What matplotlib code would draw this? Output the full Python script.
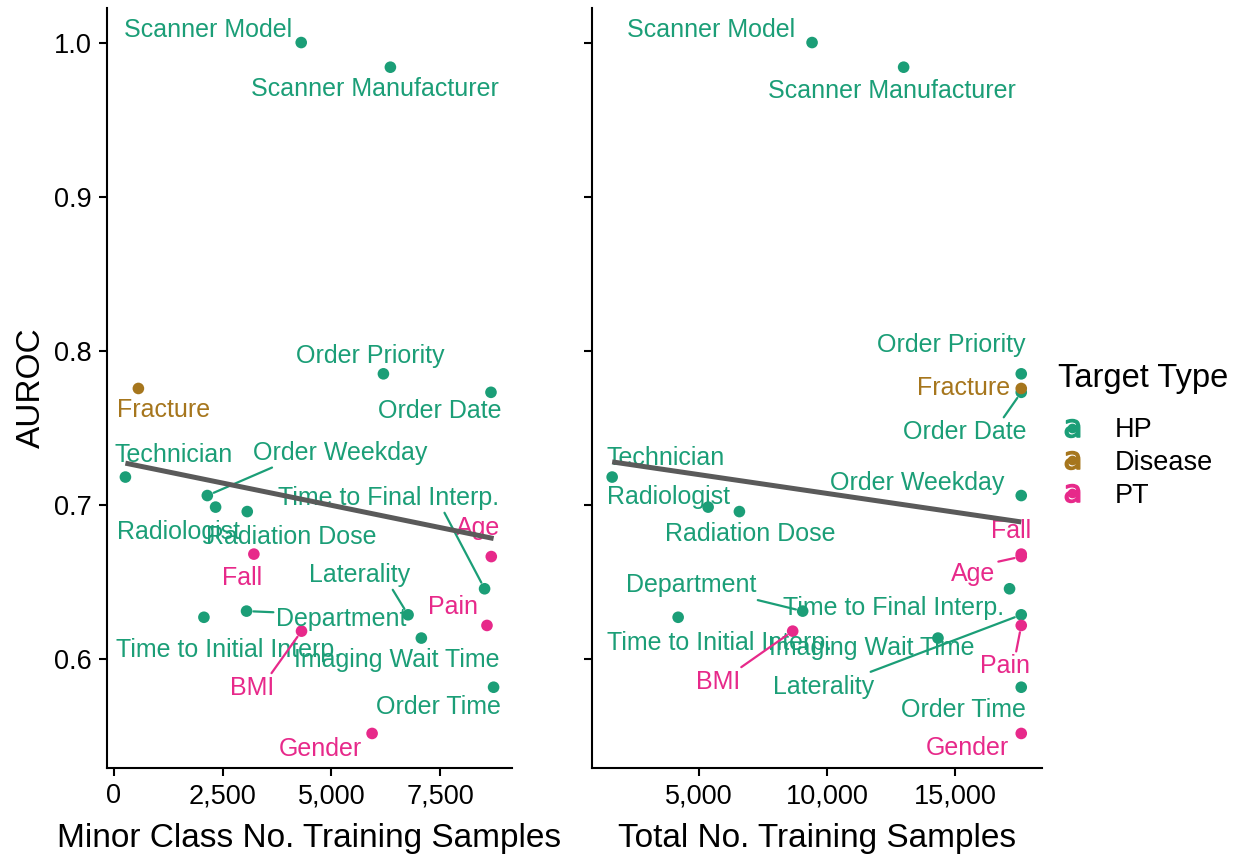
import numpy as np
import matplotlib
matplotlib.use('Agg')
import matplotlib.pyplot as plt
from matplotlib.lines import Line2D
from matplotlib.legend_handler import HandlerTuple
from matplotlib.ticker import FuncFormatter

plt.rcParams['font.family'] = ['Liberation Sans', 'DejaVu Sans']

# data
features = ['Scanner Model', 'Scanner Manufacturer', 'Order Priority', 'Order Date',
            'Fracture', 'Technician', 'Order Weekday', 'Radiologist', 'Radiation Dose',
            'Fall', 'Age', 'Time to Final Interp.', 'Time to Initial Interp.',
            'Department', 'Laterality', 'BMI', 'Imaging Wait Time', 'Pain',
            'Order Time', 'Gender']
target_type = ['HP', 'HP', 'HP', 'HP', 'Disease', 'HP', 'HP', 'HP', 'HP', 'PT', 'PT',
               'HP', 'HP', 'HP', 'HP', 'PT', 'HP', 'PT', 'HP', 'PT']
minor_samples = [4305, 6353, 6193, 8663, 566, 268, 2149, 2339, 3066, 3218, 8670,
                 8516, 2071, 3050, 6759, 4312, 7064, 8571, 8723, 5933]
total_samples = [9419, 12990, 17576, 17576, 17576, 1624, 17576, 5366, 6586, 17576,
                 17576, 17120, 4197, 9053, 17576, 8664, 14329, 17576, 17576, 17576]
auroc = [1.000, 0.984, 0.785, 0.773, 0.7755, 0.718, 0.706, 0.6985, 0.6956, 0.668,
         0.6664, 0.6455, 0.627, 0.631, 0.6286, 0.618, 0.6135, 0.6217, 0.5816, 0.5516]

type_order = ['HP', 'Disease', 'PT']
palette = {'HP': '#1b9e77', 'Disease': '#a6761d', 'PT': '#e7298a'}

# label placement (pixel offsets from the point) and whether a leader line is drawn
minor_labels = {
    'Scanner Model': (-93, 13, False), 'Scanner Manufacturer': (-15, -22, False),
    'Order Priority': (-13, 18, False), 'Order Date': (-51, -19, False),
    'Fracture': (25, -22, False), 'Technician': (48, 22, False),
    'Order Weekday': (133, 43, True), 'Radiologist': (-37, -25, False),
    'Radiation Dose': (44, -25, False), 'Fall': (-12, -24, False),
    'Age': (-13, 29, False), 'Time to Final Interp.': (-96, 91, True),
    'Time to Initial Interp.': (25, -33, False), 'Department': (95, -8, True),
    'Laterality': (-49, 40, True), 'BMI': (-49, -57, True),
    'Imaging Wait Time': (-25, -22, False), 'Pain': (-34, 18, False),
    'Order Time': (-55, -20, False), 'Gender': (-52, -16, False),
}
total_labels = {
    'Scanner Model': (-101, 13, False), 'Scanner Manufacturer': (-12, -24, False),
    'Order Priority': (-70, 29, False), 'Fracture': (-58, 0, False),
    'Order Date': (-56, -40, True), 'Technician': (53, 19, False),
    'Order Weekday': (-104, 13, False), 'Radiologist': (-40, 10, False),
    'Radiation Dose': (11, -22, False), 'Fall': (-10, 23, False),
    'Age': (-48, -17, True), 'Time to Final Interp.': (-116, -19, False),
    'Time to Initial Interp.': (41, -26, False), 'Department': (-111, 26, True),
    'Laterality': (-198, -72, True), 'BMI': (-75, -51, True),
    'Imaging Wait Time': (-66, -10, False), 'Pain': (-16, -41, True),
    'Order Time': (-58, -23, False), 'Gender': (-53.5, -15, False),
}


def expand(vals, frac=0.05):
    lo, hi = min(vals), max(vals)
    pad = (hi - lo) * frac
    return lo - pad, hi + pad


def panel(ax, x, labels, xticks, xlabel, show_y):
    x = np.array(x, dtype=float)
    y = np.array(auroc)
    colors = [palette[t] for t in target_type]
    ax.scatter(x, y, s=70, c=colors, zorder=2, linewidths=0)

    # linear fit like geom_smooth(method='lm', se=FALSE)
    slope, icpt = np.polyfit(x, y, 1)
    xs = np.array([x.min(), x.max()])
    ax.plot(xs, slope * xs + icpt, color='#5a5a5a', lw=3.6, zorder=4,
            solid_capstyle='butt')

    leaders = []
    for name, xi, yi, t in zip(features, x, y, target_type):
        dx, dy, leader = labels[name]
        c = palette[t]
        ann = ax.annotate(name, (xi, yi), xytext=(dx, dy), textcoords='offset pixels',
                          ha='center', va='center', fontsize=18, color=c, zorder=3)
        if leader:
            leaders.append((ann, xi, yi, dx, dy, c))

    ax.set_xlim(*expand(x))
    ax.set_ylim(*expand(auroc))
    ax.set_xticks(xticks)
    ax.xaxis.set_major_formatter(FuncFormatter(lambda v, p: f'{v:,.0f}'))
    ax.set_yticks([0.6, 0.7, 0.8, 0.9, 1.0])
    ax.yaxis.set_major_formatter(FuncFormatter(lambda v, p: f'{v:.1f}'))
    for s in ['top', 'right']:
        ax.spines[s].set_visible(False)
    for s in ['left', 'bottom']:
        ax.spines[s].set_linewidth(1.5)
        ax.spines[s].set_color('black')
    ax.tick_params(length=6, width=1.5, labelsize=19.5, pad=5, colors='black')
    ax.set_xlabel(xlabel, fontsize=24)
    ax.xaxis.set_label_coords(0.5, -0.072)
    if show_y:
        ax.set_ylabel('AUROC', fontsize=24)
        ax.yaxis.set_label_coords(-0.148, 0.5)
    else:
        ax.tick_params(axis='y', labelleft=False)
    return leaders


def draw_leaders(fig, ax, leaders, gap=3):
    # segment from the point to the label box, roughly as ggrepel does
    renderer = fig.canvas.get_renderer()
    for ann, xi, yi, dx, dy, c in leaders:
        bb = ann.get_window_extent(renderer)
        hw, hh = bb.width / 2 + gap, bb.height / 2 + gap
        near = np.array([np.clip(-dx, -hw, hw), np.clip(-dy, -hh, hh)])
        t = min(hw / abs(dx) if dx else np.inf, hh / abs(dy) if dy else np.inf)
        toward = np.array([-dx, -dy]) * t
        end = 0.5 * (near + toward)
        ax.annotate('', (xi, yi), xytext=(dx + end[0], dy + end[1]),
                    textcoords='offset pixels', zorder=3,
                    arrowprops=dict(arrowstyle='-', color=c, lw=1.6,
                                    shrinkA=0, shrinkB=5))


fig = plt.figure(figsize=(12.44, 8.65), dpi=100)
ax1 = fig.add_axes([107 / 1244, 97 / 865, 405 / 1244, 760 / 865])
ax2 = fig.add_axes([591.7 / 1244, 97 / 865, 450 / 1244, 760 / 865])

lead1 = panel(ax1, minor_samples, minor_labels, [0, 2500, 5000, 7500],
              'Minor Class No. Training Samples', True)
lead2 = panel(ax2, total_samples, total_labels, [5000, 10000, 15000],
              'Total No. Training Samples', False)
draw_leaders(fig, ax1, lead1)
draw_leaders(fig, ax2, lead2)

# legend keys: the letter "a" from the text layer with the point on top
handles = []
for t in type_order:
    letter = Line2D([], [], ls='none', marker=r'$\mathsf{a}$', ms=13, color=palette[t])
    dot = Line2D([], [], ls='none', marker='o', ms=6, color=palette[t])
    handles.append((letter, dot))
fig.text(1058 / 1244, 1 - 378 / 865, 'Target Type', fontsize=23.5,
         ha='left', va='center')
fig.legend(handles, type_order, loc='upper left',
           bbox_to_anchor=(1058 / 1244, 1 - 417 / 865), frameon=False,
           fontsize=19.5, handlelength=1.0, handletextpad=1.1, labelspacing=0.25,
           borderpad=0, borderaxespad=0,
           handler_map={tuple: HandlerTuple(ndivide=1, pad=0)})

fig.savefig('out.png', dpi=100)
